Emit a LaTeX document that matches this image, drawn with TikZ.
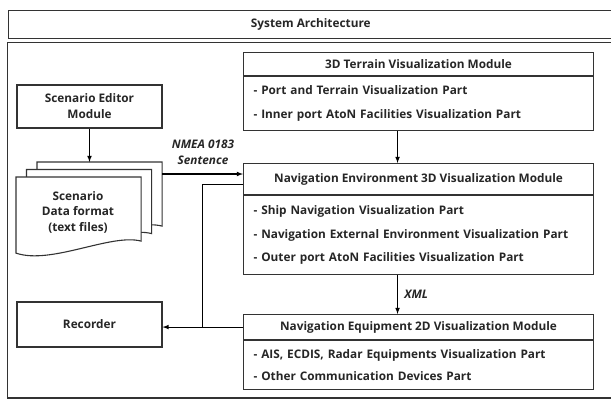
\documentclass[tikz,border=0pt]{standalone}
\usepackage{fontspec}
\setmainfont{Open Sans}
\usetikzlibrary{calc, positioning, arrows}

\begin{document}
\begin{tikzpicture}[x=1pt, y=-1pt, line width=1.1pt, >=latex,
	font=\bfseries\fontsize{11.8}{16}\selectfont, text=black!85]
	\tikzset{box/.style={draw=black!80, rectangle, inner sep=0pt, align=center}}
	\tikzset{head/.style={box, minimum width=350pt}}
	\tikzset{parts/.style={box, minimum width=350pt, text width=330pt, inner xsep=10pt, align=left,
			font=\bfseries\fontsize{11.8}{23.5}\selectfont}}
	\tikzset{tag/.style={align=center, font=\bfseries\itshape\fontsize{11.8}{15.5}\selectfont}}
	\tikzset{sheet/.style={minimum width=124pt, minimum height=63pt, inner sep=0pt}}
	\useasboundingbox (0,0) rectangle (611,400);
	% frames
	\node[box, minimum width=605.5pt, minimum height=28.5pt, anchor=north west] (title) at (7.5,9.5) {System Architecture};
	\draw[draw=black!80] (7.5,42.5) rectangle (613,398);
	% modules
	\node[head, minimum height=23.3pt, anchor=north west] (terrain) at (243,51.7) {3D Terrain Visualization Module};
	\node[parts, minimum height=54pt, below=0pt of terrain] (terrainparts) {- Port and Terrain Visualization Part\\- Inner port AtoN Facilities Visualization Part};
	\node[head, minimum height=31pt, anchor=north west] (navenv) at (243,163) {Navigation Environment 3D Visualization Module};
	\node[parts, minimum height=79pt, below=0pt of navenv] (navenvparts) {- Ship Navigation Visualization Part\\- Navigation External Environment Visualization Part\\- Outer port AtoN Facilities Visualization Part};
	\node[head, minimum height=25pt, anchor=north west] (equip) at (243,314) {Navigation Equipment 2D Visualization Module};
	\node[parts, minimum height=49pt, below=0pt of equip, font=\bfseries\fontsize{11.8}{22}\selectfont] (equipparts) {- AIS, ECDIS, Radar Equipments Visualization Part\\- Other Communication Devices Part};
	\node[box, minimum width=145pt, minimum height=43pt] (editor) at (89.5,106.5) {Scenario Editor\\Module};
	\node[box, minimum width=145pt, minimum height=45pt] (recorder) at (89.5,324.5) {Recorder};
	% stacked data files
	\foreach \i/\dx/\dy in {2/21/15, 1/10.5/7.5, 0/0/0}{
		\node[sheet, anchor=north west] (sheet\i) at (16+\dx,177-\dy) {};
		\draw[draw=black!80, fill=white] (sheet\i.north west) -- (sheet\i.north east) -- (sheet\i.south east)
		.. controls +(-30,-8) and +(35,12) .. ([yshift=-12pt]sheet\i.south west) -- cycle;
	}
	\node[align=center, font=\bfseries\fontsize{11.8}{15.5}\selectfont] (data) at (78,212) {Scenario\\Data format\\(text files)};
	% connectors
	\draw[->] (editor.south) -- (editor.south |- sheet2.north);
	\coordinate (nmea) at ([yshift=-12pt]sheet2.north east);
	\draw[->] (nmea) -- (nmea -| navenv.west);
	\node[tag] (nmealabel) at (203,152.5) {NMEA 0183\\Sentence};
	\draw[->] ([xshift=-21pt]terrainparts.south) -- ([xshift=-21pt]navenv.north);
	\draw[->] ([xshift=-21pt]navenvparts.south) -- ([xshift=-21pt]equip.north) node[tag, midway, right=3pt] (xml) {XML};
	\draw[->] (equip.west) -- (equip.west -| recorder.east);
	\coordinate (fb) at ([yshift=-5.5pt]navenv.west);
	\draw (fb) -| ($(equip.west)!0.5!(equip.west -| recorder.east)$);
\end{tikzpicture}
\end{document}
